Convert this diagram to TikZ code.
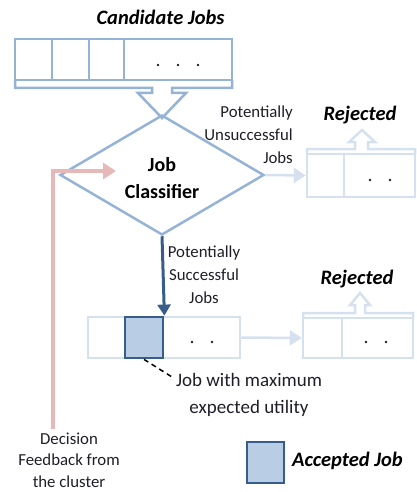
\documentclass[tikz,border=0pt]{standalone}
\usepackage{fontspec}
\setmainfont{Carlito}
\usetikzlibrary{arrows.meta,shapes.geometric}

\definecolor{qblue}{RGB}{149,179,215}
\definecolor{pale}{RGB}{214,225,239}
\definecolor{darkb}{RGB}{56,93,138}
\definecolor{accfill}{RGB}{185,205,229}
\definecolor{fbpink}{RGB}{230,185,184}
\definecolor{txt}{RGB}{30,30,40}

\tikzset{
  qline/.style={draw=qblue, line width=2.5pt, line join=miter},
  paleline/.style={draw=pale, line width=2.5pt, line join=miter},
  palebox/.style={rectangle, paleline, inner sep=0pt},
  accbox/.style={rectangle, draw=darkb, fill=accfill, line width=2.8pt, inner sep=0pt},
  palearrow/.style={draw=pale, line width=2.5pt, -{Triangle[length=12pt, width=15pt]}},
  selarrow/.style={draw=darkb, line width=3pt, -{Triangle[length=11pt, width=13pt]}},
  fbarrow/.style={draw=fbpink, line width=3.5pt, -{Triangle[length=13pt, width=16pt]}},
  dot/.style={fill=txt},
  title/.style={inner sep=0pt, text=black, font=\fontsize{20.5}{24}\selectfont\bfseries\itshape},
  lbl/.style={inner sep=0pt, text=txt, font=\fontsize{16.8}{23}\selectfont},
  note/.style={inner sep=0pt, text=txt, font=\fontsize{19}{27}\selectfont},
}

\begin{document}
\begin{tikzpicture}[x=1pt, y=-1pt]
\useasboundingbox (0,0) rectangle (417,492);

% candidate job queue with its outlet arrow
\draw[qline] (15,39) rectangle (232,80);
\draw[qline] (52,39) -- (52,80) (89,39) -- (89,80) (124,39) -- (124,80);
\draw[qline] (15,80) -- (15,88) -- (152,88) -- (152,93) -- (138,93) -- (162,118)
  -- (186,93) -- (172,93) -- (172,88) -- (232,88) -- (232,80);
\foreach \x in {158,178,198} \fill[dot] (\x,65) circle (1.3);
\node[title, anchor=base] (candt) at (160.5,25) {Candidate Jobs};

% classifier (multi-line nodes are placed by the baseline of their last line)
\node[diamond, qline, aspect=1.7, minimum width=204pt, minimum height=120pt, inner sep=0pt] (clf) at (162,175) {};
\node[inner sep=0pt, align=center, text=black, font=\fontsize{20}{27}\selectfont\bfseries, anchor=base] (clft) at (162,198) {Job\\Classifier};

% upper rejected queue
\node[palebox, minimum width=108pt, minimum height=43pt] (rej1) at (361,175.5) {};
\draw[paleline] (344,154) -- (344,197);
\draw[paleline] (307,154) -- (307,149) -- (355,149) -- (355,142) -- (349,142) -- (362,130)
  -- (375,142) -- (368,142) -- (368,149) -- (415,149) -- (415,154);
\foreach \x in {370,390} \fill[dot] (\x,180) circle (1.3);
\node[title, anchor=base] (rej1t) at (360,121) {Rejected};
\draw[palearrow] (clf.east) -- (rej1.west);
\node[lbl, align=right, anchor=base east] (unsucc) at (293,163) {Potentially\\Unsuccessful\\Jobs};

% selected queue
\node[palebox, minimum width=152pt, minimum height=41pt] (lowq) at (164,337.5) {};
\node[accbox, minimum width=38pt, minimum height=41pt] (acc) at (144,337.5) {};
\foreach \x in {192,212} \fill[dot] (\x,342) circle (1.3);
\draw[selarrow] (clf.south) -- (acc.north east);
\node[lbl, align=center, anchor=base] (succ) at (204,303) {Potentially\\Successful\\Jobs};

% lower rejected queue
\node[palebox, minimum width=110pt, minimum height=40pt] (rej2) at (358,338) {};
\draw[paleline] (342,318) -- (342,358);
\draw[paleline] (303,318) -- (303,313) -- (355,313) -- (355,305) -- (350,305) -- (360,293)
  -- (370,305) -- (365,305) -- (365,313) -- (413,313) -- (413,318);
\foreach \x in {366,386} \fill[dot] (\x,342) circle (1.3);
\node[title, anchor=base] (rej2t) at (357,284) {Rejected};
\draw[palearrow] (lowq.east) -- (rej2.west);

% annotation of the chosen job
\node[note, align=center, anchor=base] (util) at (249,413) {Job with maximum\\expected utility};
\coordinate (utilend) at (172,377);
\draw[black, line width=1.5pt, dash pattern=on 5pt off 4pt] (acc.south) -- (utilend);

% feedback from the cluster
\node[lbl, align=center, anchor=base, font=\fontsize{16.8}{21.5}\selectfont] (dec) at (69,487) {Decision\\Feedback from\\the cluster};
\coordinate (fbstart) at (53,429);
\coordinate (fbend) at (116,171);
\draw[fbarrow] (fbstart) |- (fbend);

% legend
\node[accbox, minimum width=37pt, minimum height=41pt] (legbox) at (265.5,462.5) {};
\node[title, anchor=base west] (legt) at (292,466) {Accepted Job};
\end{tikzpicture}
\end{document}
